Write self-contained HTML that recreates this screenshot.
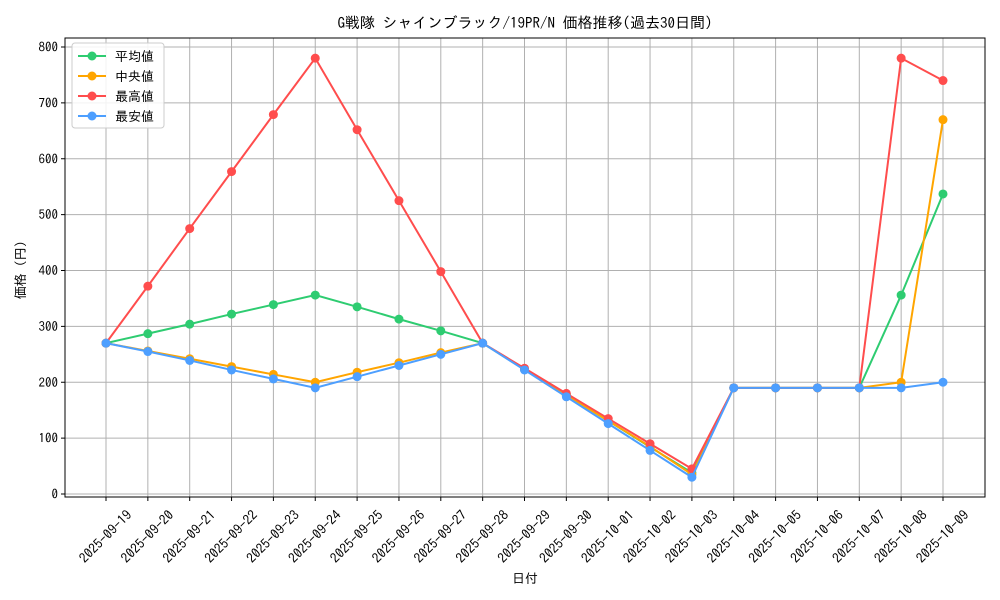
<!DOCTYPE html>
<html><head><meta charset="utf-8"><style>
body{margin:0;background:#fff;}
svg{display:block;font-family:"IPAGothic","Liberation Mono","Noto Sans CJK JP",monospace;}
</style></head><body>
<svg id="c" width="1000" height="600"></svg>
<script>
const dates=["2025-09-19","2025-09-20","2025-09-21","2025-09-22","2025-09-23","2025-09-24","2025-09-25","2025-09-26","2025-09-27","2025-09-28","2025-09-29","2025-09-30","2025-10-01","2025-10-02","2025-10-03","2025-10-04","2025-10-05","2025-10-06","2025-10-07","2025-10-08","2025-10-09"];
const meanVals=[270,287,304,322,339,356,335,313,292,270,223,177,131,84,38,190,190,190,190,356,537];
const medianVals=[270,256,242,228,214,200,218,235,253,270,223,177,131,85,35,190,190,190,190,200,670];
const maxVals=[270,372,475,577,679,780,652,525,398,270,225,180,135,90,45,190,190,190,190,780,740];
const minVals=[270,255,239,222,206,190,210,230,250,270,222,174,126,78,30,190,190,190,190,190,200];
const yTicks=[0,100,200,300,400,500,600,700,800];
const seriesNames=["平均値","中央値","最高値","最安値"];
const seriesColors=["#2ecc71","#ffa500","#ff4d4d","#4d9fff"];
const allSeries=[meanVals,medianVals,maxVals,minVals];

const L=65,R=985,T=38,B=497;
const x=i=>106+i*(943-106)/(dates.length-1);
const y=v=>494-v*(494-47)/800;
const svg=document.getElementById('c');
const NS="http://www.w3.org/2000/svg";
function mk(t,a,p){const e=document.createElementNS(NS,t);for(const k in a)e.setAttribute(k,a[k]);(p||svg).appendChild(e);return e;}

dates.forEach((d,i)=>{
  const g=mk('line',{x1:x(i),x2:x(i),y1:T,y2:B,stroke:'#b0b0b0','stroke-width':1});
  
  
  const tk=mk('line',{x1:x(i),x2:x(i),y1:B,y2:B+4,stroke:'#000'});
  
  
  const cx=x(i), cy=537;
  const t=mk('text',{x:cx,y:cy+4,'font-size':13.5,'text-anchor':'middle',transform:`rotate(-45 ${cx} ${cy})`});
  t.textContent=d;
  
  
});
yTicks.forEach(v=>{
  const g=mk('line',{x1:L,x2:R,y1:y(v),y2:y(v),stroke:'#b0b0b0','stroke-width':1});
  
  
  const tk=mk('line',{x1:L-4,x2:L,y1:y(v),y2:y(v),stroke:'#000'});
  
  
  const t=mk('text',{x:L-7,y:y(v)+4.5,'font-size':13,'text-anchor':'end'});
  t.textContent=v;
  
  
});
const frame=mk('rect',{x:L,y:T,width:R-L,height:B-T,fill:'none',stroke:'#000','stroke-width':1});



allSeries.forEach((s,k)=>{
  const g=mk('g',{});
  
  
  mk('polyline',{points:s.map((v,i)=>x(i)+','+y(v)).join(' '),fill:'none',stroke:seriesColors[k],'stroke-width':2},g);
  s.forEach((v,i)=>{
    const c=mk('circle',{cx:x(i),cy:y(v),r:4.5,fill:seriesColors[k]},g);
    
    
  });
});

const lg=mk('g',{});


mk('rect',{x:72,y:43,width:92,height:85,rx:3,fill:'#fff','fill-opacity':0.85,stroke:'#ccc'},lg);
seriesNames.forEach((n,k)=>{
  const yy=56+k*20;
  const e=mk('g',{},lg);
  
  
  mk('line',{x1:78,x2:106,y1:yy,y2:yy,stroke:seriesColors[k],'stroke-width':2},e);
  mk('circle',{cx:92,cy:yy,r:4.5,fill:seriesColors[k]},e);
  const t=mk('text',{x:115,y:yy+5,'font-size':13},e);t.textContent=n;
});

const title=mk('text',{x:525,y:28,'font-size':15,'text-anchor':'middle'});
title.textContent="G戦隊 シャインブラック/19PR/N 価格推移(過去30日間)";


const xl=mk('text',{x:525,y:583,'font-size':13,'text-anchor':'middle'});
xl.textContent="日付";


const yl=mk('text',{x:25,y:270,'font-size':13,'text-anchor':'middle',transform:'rotate(-90 25 270)'});
yl.textContent="価格 (円)";


</script>
</body></html>
